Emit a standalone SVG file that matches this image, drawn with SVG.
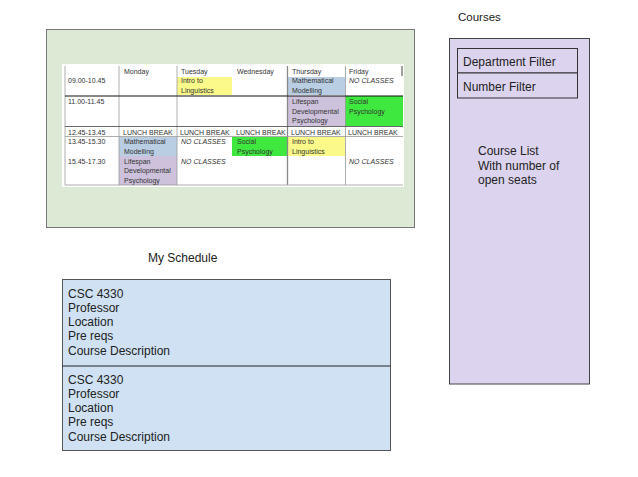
<svg xmlns="http://www.w3.org/2000/svg" width="638" height="477" viewBox="0 0 638 477">
<style>
.lbl{font-family:"Liberation Sans",Arial,sans-serif;font-size:12px;fill:#222}
.t{font-family:"Liberation Sans",Arial,sans-serif;font-size:7px;fill:#333}
.i{font-style:italic}
.grid{stroke:#999;stroke-width:0.8}
</style>
<rect width="638" height="477" fill="#fff"/>

<g id="schedule-image">
  <rect x="46.5" y="29.5" width="368" height="198" fill="#dbe9d5" stroke="#777" stroke-width="1"/>
  <rect x="62" y="64" width="342" height="123" fill="#fff"/>
  <!-- cell fills -->
  <rect x="177" y="77" width="55" height="18" fill="#fbf98a"/>
  <rect x="288" y="77" width="57" height="18" fill="#b9cde3"/>
  <rect x="288" y="96" width="57" height="30" fill="#cdc1db"/>
  <rect x="345" y="96" width="58" height="30" fill="#3fe83f"/>
  <rect x="119" y="137" width="58" height="19" fill="#b9cde3"/>
  <rect x="119" y="156" width="58" height="29" fill="#cdc1db"/>
  <rect x="232" y="137" width="55" height="19" fill="#3fe83f"/>
  <rect x="288" y="137" width="57" height="19" fill="#fbf98a"/>
  <!-- grid -->
  <line class="grid" x1="65" y1="66" x2="65" y2="185"/>
  <line class="grid" x1="119" y1="66" x2="119" y2="185"/>
  <line class="grid" x1="177" y1="66" x2="177" y2="185"/>
  <line x1="287.5" y1="66" x2="287.5" y2="185" stroke="#888" stroke-width="1.3"/>
  <line class="grid" x1="345.5" y1="66" x2="345.5" y2="185"/>
  <line x1="402" y1="66" x2="402" y2="76" stroke="#444" stroke-width="1"/>
  <line x1="65" y1="96" x2="403" y2="96" stroke="#111" stroke-width="1"/>
  <line x1="65" y1="126.5" x2="403" y2="126.5" stroke="#444" stroke-width="0.8"/>
  <line class="grid" x1="65" y1="136.5" x2="403" y2="136.5"/>
  <line class="grid" x1="65" y1="185" x2="403" y2="185"/>
  <!-- header -->
  <text class="t" x="124" y="74">Monday</text>
  <text class="t" x="181" y="74">Tuesday</text>
  <text class="t" x="237" y="74">Wednesday</text>
  <text class="t" x="292" y="74">Thursday</text>
  <text class="t" x="349" y="74">Friday</text>
  <!-- row 1 -->
  <text class="t" x="68" y="83">09.00-10.45</text>
  <text class="t" x="181" y="83">Intro to</text>
  <text class="t" x="181" y="92.5">Linguistics</text>
  <text class="t" x="292" y="83">Mathematical</text>
  <text class="t" x="292" y="92.5">Modelling</text>
  <text class="t i" x="349" y="83">NO CLASSES</text>
  <!-- row 2 -->
  <text class="t" x="68" y="104">11.00-11.45</text>
  <text class="t" x="292" y="104">Lifespan</text>
  <text class="t" x="292" y="113.5">Developmental</text>
  <text class="t" x="292" y="123">Psychology</text>
  <text class="t" x="349" y="104">Social</text>
  <text class="t" x="349" y="113.5">Psychology</text>
  <!-- lunch -->
  <text class="t" x="68" y="134.5">12.45-13.45</text>
  <text class="t" x="123" y="134.5">LUNCH BREAK</text>
  <text class="t" x="180" y="134.5">LUNCH BREAK</text>
  <text class="t" x="236" y="134.5">LUNCH BREAK</text>
  <text class="t" x="291" y="134.5">LUNCH BREAK</text>
  <text class="t" x="348" y="134.5">LUNCH BREAK</text>
  <!-- row 4 -->
  <text class="t" x="68" y="144">13.45-15.30</text>
  <text class="t" x="124" y="144">Mathematical</text>
  <text class="t" x="124" y="153.5">Modelling</text>
  <text class="t i" x="181" y="144">NO CLASSES</text>
  <text class="t" x="237" y="144">Social</text>
  <text class="t" x="237" y="153.5">Psychology</text>
  <text class="t" x="292" y="144">Intro to</text>
  <text class="t" x="292" y="153.5">Linguistics</text>
  <!-- row 5 -->
  <text class="t" x="68" y="163.5">15.45-17.30</text>
  <text class="t" x="124" y="163.5">Lifespan</text>
  <text class="t" x="124" y="173">Developmental</text>
  <text class="t" x="124" y="182.5">Psychology</text>
  <text class="t i" x="181" y="163.5">NO CLASSES</text>
  <text class="t i" x="349" y="163.5">NO CLASSES</text>
</g>

<g id="my-schedule-label">
  <text class="lbl" x="148" y="262">My Schedule</text>
</g>

<g id="schedule-list">
  <rect x="62.5" y="279.5" width="328" height="171" fill="#cfe1f3" stroke="#555" stroke-width="1"/>
  <line x1="62.5" y1="366" x2="390.5" y2="366" stroke="#222" stroke-width="1"/>
</g>
<g id="course-entry-1">
  <text class="lbl" x="68" y="297.5">CSC 4330</text>
  <text class="lbl" x="68" y="311.8">Professor</text>
  <text class="lbl" x="68" y="326.1">Location</text>
  <text class="lbl" x="68" y="340.4">Pre reqs</text>
  <text class="lbl" x="68" y="354.7">Course Description</text>
</g>
<g id="course-entry-2">
  <text class="lbl" x="68" y="383.5">CSC 4330</text>
  <text class="lbl" x="68" y="397.8">Professor</text>
  <text class="lbl" x="68" y="412.1">Location</text>
  <text class="lbl" x="68" y="426.4">Pre reqs</text>
  <text class="lbl" x="68" y="440.7">Course Description</text>
</g>

<g id="courses-label">
  <text class="lbl" x="458" y="21" style="font-size:11.5px">Courses</text>
</g>
<g id="courses-panel">
  <rect x="449.5" y="38.5" width="140" height="345.5" fill="#dcd3ee" stroke="#444" stroke-width="1"/>
  <text class="lbl" x="478" y="155">Course List</text>
  <text class="lbl" x="478" y="169.5">With number of</text>
  <text class="lbl" x="478" y="184">open seats</text>
</g>
<g id="department-filter">
  <rect x="457.5" y="48.5" width="120" height="24.5" fill="#dcd3ee" stroke="#333" stroke-width="1"/>
  <text class="lbl" x="463" y="66">Department Filter</text>
</g>
<g id="number-filter">
  <rect x="457.5" y="73" width="120" height="25" fill="#dcd3ee" stroke="#333" stroke-width="1"/>
  <text class="lbl" x="463" y="91">Number Filter</text>
</g>
<g id="connectors"></g>
</svg>
